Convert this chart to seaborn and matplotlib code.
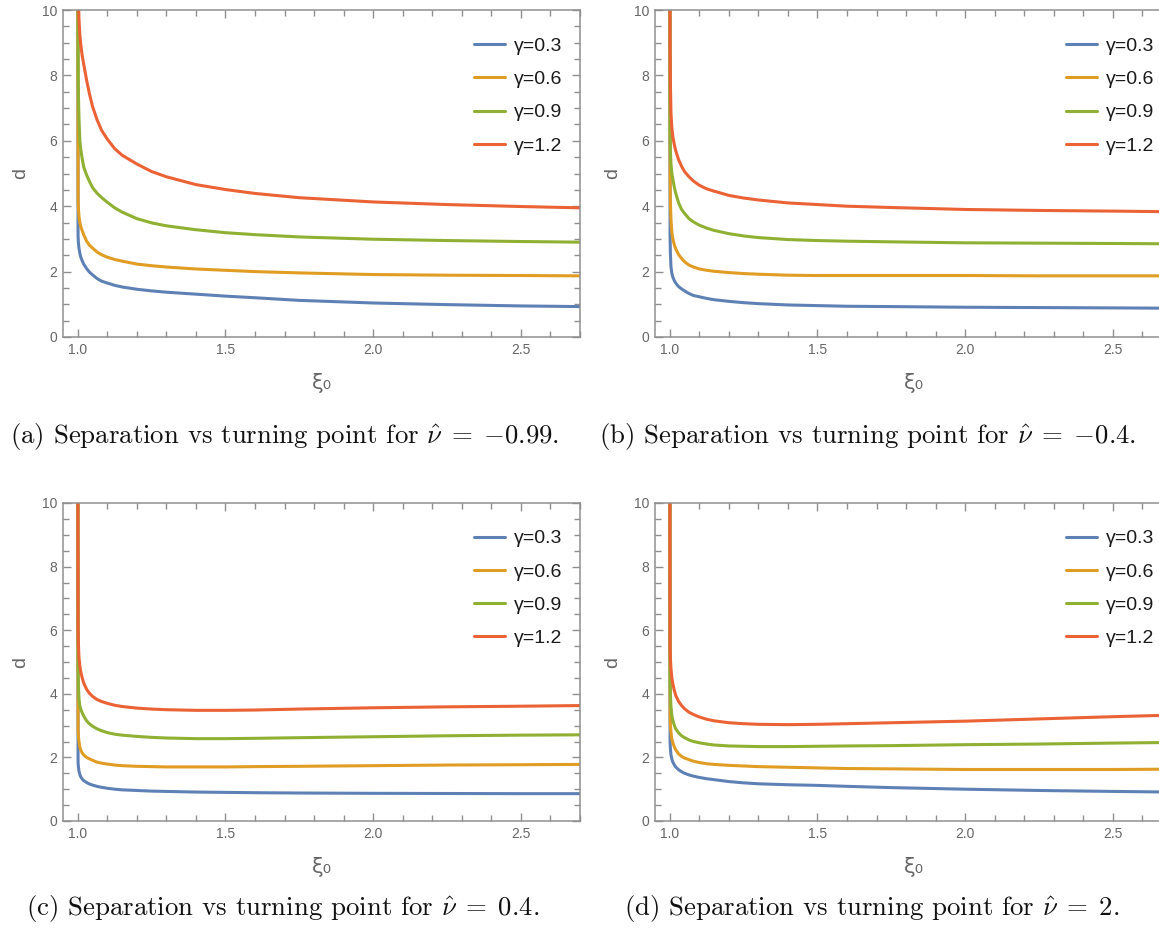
import numpy as np
import pandas as pd
import matplotlib
matplotlib.use("Agg")
import matplotlib.pyplot as plt
from matplotlib.ticker import MultipleLocator
import seaborn as sns

# Data: d vs xi_0 for four gamma values, four nu-hat values

XI = [1.0, 1.001, 1.002, 1.004, 1.007, 1.01, 1.015, 1.02, 1.03, 1.04, 1.05, 1.065, 1.08,
      1.1, 1.125, 1.15, 1.2, 1.25, 1.3, 1.4, 1.5, 1.6, 1.75, 2.0, 2.25, 2.5, 2.7]

GAMMAS = ["γ=0.3", "γ=0.6", "γ=0.9", "γ=1.2"]
COLORS = ["#5E81B5", "#E19C24", "#8FB032", "#EB6235"]

# (a) nu-hat = -0.99
d_a = {
    "γ=0.3": [14, 3.1, 2.9, 2.72, 2.56, 2.45, 2.33, 2.23, 2.09, 1.98, 1.9, 1.79, 1.71,
              1.65, 1.58, 1.53, 1.46, 1.41, 1.37, 1.31, 1.25, 1.2, 1.12, 1.04, 0.99, 0.95, 0.93],
    "γ=0.6": [14, 4.2, 3.95, 3.7, 3.5, 3.38, 3.25, 3.13, 2.93, 2.8, 2.72, 2.6, 2.52,
              2.44, 2.37, 2.32, 2.23, 2.18, 2.14, 2.08, 2.04, 2.0, 1.96, 1.91, 1.89, 1.88, 1.87],
    "γ=0.9": [14, 8.5, 7.5, 6.7, 6.0, 5.75, 5.45, 5.2, 4.95, 4.75, 4.57, 4.4, 4.27,
              4.12, 3.95, 3.82, 3.62, 3.49, 3.4, 3.28, 3.19, 3.13, 3.06, 2.99, 2.95, 2.92, 2.90],
    "γ=1.2": [14, 11.0, 10.4, 9.75, 9.25, 8.95, 8.6, 8.35, 7.85, 7.42, 7.05, 6.65, 6.33,
              6.05, 5.76, 5.56, 5.29, 5.06, 4.9, 4.66, 4.51, 4.39, 4.26, 4.13, 4.05, 3.99, 3.95],
}
# (b) nu-hat = -0.4
d_b = {
    "γ=0.3": [14, 3.1, 2.6, 2.15, 1.95, 1.84, 1.73, 1.65, 1.54, 1.47, 1.41, 1.33, 1.27,
              1.23, 1.18, 1.14, 1.09, 1.05, 1.02, 0.98, 0.96, 0.94, 0.93, 0.91, 0.90, 0.89, 0.88],
    "γ=0.6": [14, 5.0, 4.15, 3.6, 3.2, 3.02, 2.83, 2.7, 2.52, 2.4, 2.3, 2.2, 2.14,
              2.08, 2.04, 2.01, 1.97, 1.94, 1.92, 1.89, 1.88, 1.88, 1.88, 1.88, 1.87, 1.87, 1.87],
    "γ=0.9": [14, 6.5, 5.7, 5.3, 5.0, 4.85, 4.6, 4.4, 4.1, 3.9, 3.78, 3.62, 3.52,
              3.42, 3.33, 3.26, 3.16, 3.09, 3.04, 2.98, 2.95, 2.93, 2.91, 2.88, 2.87, 2.86, 2.85],
    "γ=1.2": [14, 9.0, 7.8, 6.85, 6.4, 6.15, 5.9, 5.7, 5.42, 5.22, 5.06, 4.9, 4.77,
              4.64, 4.53, 4.46, 4.33, 4.25, 4.19, 4.1, 4.05, 4.0, 3.96, 3.9, 3.87, 3.85, 3.83],
}
# (c) nu-hat = 0.4
d_c = {
    "γ=0.3": [14, 1.85, 1.72, 1.57, 1.46, 1.39, 1.32, 1.27, 1.21, 1.16, 1.13, 1.09, 1.06,
              1.03, 1.0, 0.98, 0.96, 0.94, 0.93, 0.91, 0.9, 0.89, 0.88, 0.87, 0.865, 0.86, 0.86],
    "γ=0.6": [14, 2.85, 2.7, 2.5, 2.33, 2.23, 2.14, 2.08, 2.0, 1.95, 1.91, 1.85, 1.82,
              1.79, 1.76, 1.74, 1.72, 1.71, 1.7, 1.7, 1.7, 1.71, 1.72, 1.74, 1.76, 1.77, 1.78],
    "γ=0.9": [14, 5.0, 4.3, 3.85, 3.62, 3.52, 3.4, 3.3, 3.15, 3.05, 2.98, 2.9, 2.84,
              2.78, 2.73, 2.7, 2.66, 2.63, 2.61, 2.59, 2.59, 2.6, 2.62, 2.65, 2.68, 2.7, 2.71],
    "γ=1.2": [14, 6.0, 5.6, 5.15, 4.88, 4.7, 4.5, 4.34, 4.14, 4.01, 3.92, 3.82, 3.76,
              3.7, 3.64, 3.6, 3.55, 3.52, 3.5, 3.48, 3.48, 3.49, 3.52, 3.56, 3.59, 3.61, 3.63],
}
# (d) nu-hat = 2
d_d = {
    "γ=0.3": [14, 2.5, 2.3, 2.08, 1.95, 1.86, 1.77, 1.7, 1.61, 1.55, 1.5, 1.45, 1.41,
              1.37, 1.33, 1.3, 1.24, 1.2, 1.17, 1.14, 1.12, 1.09, 1.05, 1.0, 0.96, 0.93, 0.91],
    "γ=0.6": [14, 3.35, 3.05, 2.8, 2.58, 2.47, 2.34, 2.24, 2.11, 2.03, 1.98, 1.93, 1.88,
              1.84, 1.8, 1.78, 1.75, 1.73, 1.71, 1.69, 1.67, 1.65, 1.64, 1.62, 1.62, 1.62, 1.63],
    "γ=0.9": [14, 4.6, 4.0, 3.6, 3.32, 3.18, 3.02, 2.9, 2.77, 2.68, 2.62, 2.55, 2.5,
              2.46, 2.42, 2.39, 2.36, 2.35, 2.34, 2.34, 2.35, 2.36, 2.37, 2.4, 2.42, 2.45, 2.47],
    "γ=1.2": [14, 5.5, 5.15, 4.8, 4.5, 4.33, 4.12, 3.95, 3.76, 3.63, 3.53, 3.42, 3.35,
              3.27, 3.2, 3.15, 3.09, 3.06, 3.04, 3.03, 3.04, 3.06, 3.09, 3.14, 3.21, 3.28, 3.33],
}

captions = [
    r"(a) Separation vs turning point for $\hat{\nu}\;=\;{-}0.99$.",
    r"(b) Separation vs turning point for $\hat{\nu}\;=\;{-}0.4$.",
    r"(c) Separation vs turning point for $\hat{\nu}\;=\;0.4$.",
    r"(d) Separation vs turning point for $\hat{\nu}\;=\;2$.",
]

sns.set_style("ticks", {"xtick.direction": "in", "ytick.direction": "in"})
plt.rcParams["font.family"] = ["Liberation Sans", "DejaVu Sans"]
plt.rcParams["mathtext.fontset"] = "cm"

frame_col = "#8f8f8f"
label_col = "#666666"

W, H = 1159, 934
fig = plt.figure(figsize=(W / 100, H / 100), dpi=100)

# axes boxes in pixels: left, top, bottom
boxes = [(63, 10, 337), (655, 10, 337), (63, 503, 821), (655, 503, 821)]
cap_pos = [(285, 437), (868, 437), (283, 908), (872, 908)]
panels = [d_a, d_b, d_c, d_d]

for (left, top, bottom), data, cap, (cx, cy) in zip(boxes, panels, captions, cap_pos):
    ax = fig.add_axes([left / W, 1 - bottom / H, 517 / W, (bottom - top) / H])

    rows = []
    for g in GAMMAS:
        for x, y in zip(XI, data[g]):
            rows.append((x, y, g))
    df = pd.DataFrame(rows, columns=["xi0", "d", "gamma"])

    sns.lineplot(data=df, x="xi0", y="d", hue="gamma", hue_order=GAMMAS,
                 palette=COLORS, linewidth=2.2, sort=False, estimator=None, ax=ax)

    ax.set_xlim(0.95, 2.7)
    ax.set_ylim(0, 10)
    ax.xaxis.set_major_locator(MultipleLocator(0.5))
    ax.xaxis.set_minor_locator(MultipleLocator(0.1))
    ax.yaxis.set_major_locator(MultipleLocator(2))
    ax.yaxis.set_minor_locator(MultipleLocator(0.5))
    ax.set_xticks([1.0, 1.5, 2.0, 2.5])
    ax.set_xticklabels(["1.0", "1.5", "2.0", "2.5"])

    ax.tick_params(which="both", direction="in", bottom=True, left=True, top=True, right=True,
                   color=frame_col, labelcolor=label_col, labelsize=10, pad=4)
    ax.tick_params(which="major", length=6, width=1.0)
    ax.tick_params(which="minor", length=4, width=1.0)
    for s in ax.spines.values():
        s.set_visible(True)
        s.set_color(frame_col)
        s.set_linewidth(1.1)

    ax.set_xlabel("ξ₀", fontsize=15, color=label_col, labelpad=12, family="DejaVu Sans")
    ax.set_ylabel("d", fontsize=14, color=label_col, labelpad=9)

    leg = ax.legend(loc="upper right", bbox_to_anchor=(0.98, 0.94), frameon=False,
                    fontsize=14, handlelength=1.55, handletextpad=0.46,
                    labelspacing=0.8, borderaxespad=0)
    for t in leg.get_texts():
        t.set_color("#1a1a1a")

    fig.text(cx / W, 1 - cy / H, cap, ha="center", va="center",
             fontsize=19.3, family="cmr10", color="#111111")

fig.savefig("out.png", dpi=100)
